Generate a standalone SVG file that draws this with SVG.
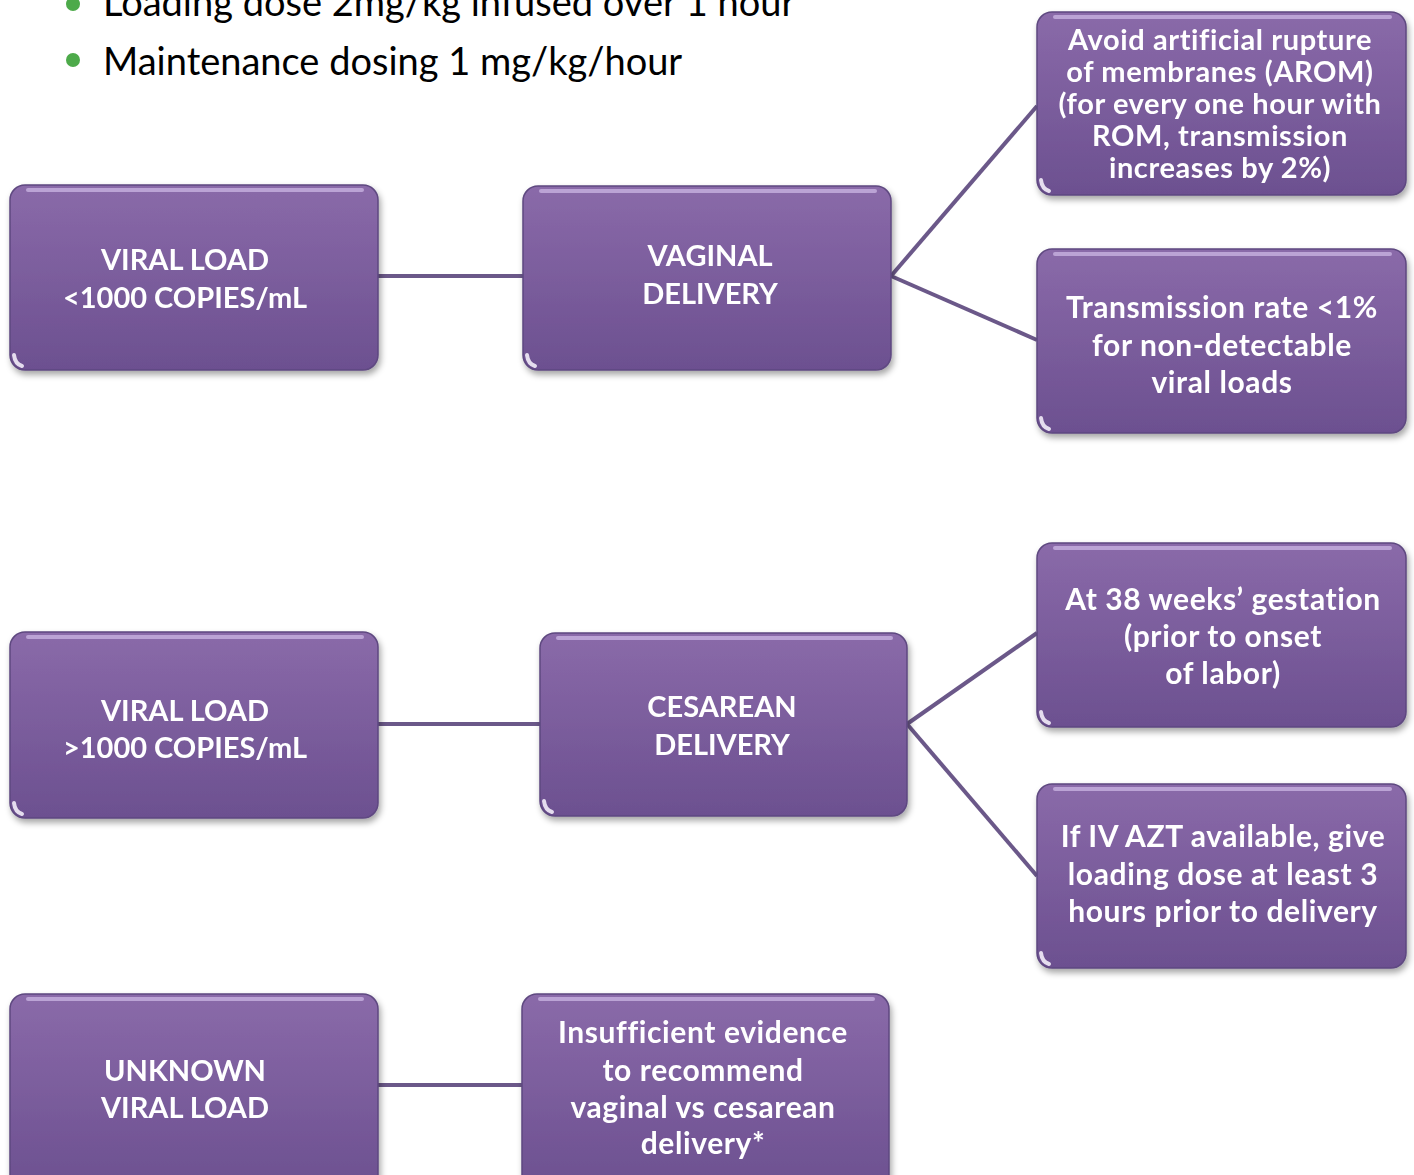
<svg xmlns="http://www.w3.org/2000/svg" width="1414" height="1175" viewBox="0 0 1414 1175">
<style>
.box{fill:url(#g);stroke:#5e4880;stroke-width:1.5}
.hl{fill:none;stroke:#c8b2e0;stroke-width:4;stroke-linecap:round;opacity:0.8}
.bl{fill:none;stroke:#f2ecf8;stroke-width:4;stroke-linecap:round;opacity:0.9}
.t{font-family:Lato,"Open Sans",sans-serif;font-weight:700;font-size:30px;letter-spacing:0.6px;fill:#ffffff;text-anchor:middle}
.s{font-size:29px}
.u{font-size:29px;letter-spacing:0}
.top{font-family:Lato,"Open Sans",sans-serif;font-size:38px;fill:#000000}
.c{stroke:#6b5889;stroke-width:4;fill:none}
</style>
<defs>
<linearGradient id="g" x1="0" y1="0" x2="0" y2="1">
<stop offset="0" stop-color="#8a6aa9"/>
<stop offset="1" stop-color="#6c5090"/>
</linearGradient>
<filter id="sh" x="-10%" y="-10%" width="120%" height="125%">
<feDropShadow dx="2" dy="4" stdDeviation="3" flood-color="#000" flood-opacity="0.35"/>
</filter>
</defs>
<rect width="1414" height="1175" fill="#ffffff"/>
<g id="bullets">
<circle cx="73" cy="4" r="7" fill="#4daa4a"/>
<text class="top" x="103" y="16">Loading dose 2mg/kg infused over 1 hour</text>
<circle cx="73" cy="60" r="7" fill="#4daa4a"/>
<text class="top" x="103" y="75">Maintenance dosing 1 mg/kg/hour</text>
</g>
<g id="connectors">
<line class="c" x1="378" y1="276" x2="523" y2="276"/>
<line class="c" x1="891" y1="276" x2="1037" y2="106"/>
<line class="c" x1="891" y1="276" x2="1037" y2="340"/>
<line class="c" x1="378" y1="724" x2="540" y2="724"/>
<line class="c" x1="907" y1="724" x2="1037" y2="633"/>
<line class="c" x1="907" y1="724" x2="1037" y2="876"/>
<line class="c" x1="378" y1="1085" x2="522" y2="1085"/>
</g>
<g id="n1" filter="url(#sh)">
<rect class="box" x="10" y="185" width="368" height="185" rx="15"/>
<line class="hl" x1="28" y1="190" x2="362" y2="190"/>
<path class="bl" d="M14,355 Q15,364 22,366"/>
<text class="t u" x="185" y="270">VIRAL LOAD</text>
<text class="t u" x="185" y="308">&lt;1000 COPIES/mL</text>
</g>
<g id="n2" filter="url(#sh)">
<rect class="box" x="523" y="186" width="368" height="184" rx="15"/>
<line class="hl" x1="541" y1="191" x2="875" y2="191"/>
<path class="bl" d="M527,355 Q528,364 535,366"/>
<text class="t u" x="710" y="266">VAGINAL</text>
<text class="t u" x="710" y="304">DELIVERY</text>
</g>
<g id="n3" filter="url(#sh)">
<rect class="box" x="1037" y="12" width="369" height="183" rx="15"/>
<line class="hl" x1="1055" y1="17" x2="1390" y2="17"/>
<path class="bl" d="M1041,180 Q1042,189 1049,191"/>
<text class="t s" x="1220" y="50">Avoid artificial rupture</text>
<text class="t s" x="1220" y="82">of membranes (AROM)</text>
<text class="t s" x="1220" y="114">(for every one hour with</text>
<text class="t s" x="1220" y="146">ROM, transmission</text>
<text class="t s" x="1220" y="178">increases by 2%)</text>
</g>
<g id="n4" filter="url(#sh)">
<rect class="box" x="1037" y="249" width="369" height="184" rx="15"/>
<line class="hl" x1="1055" y1="254" x2="1390" y2="254"/>
<path class="bl" d="M1041,418 Q1042,427 1049,429"/>
<text class="t" x="1222" y="318">Transmission rate &lt;1%</text>
<text class="t" x="1222" y="356">for non-detectable</text>
<text class="t" x="1222" y="393">viral loads</text>
</g>
<g id="n5" filter="url(#sh)">
<rect class="box" x="10" y="632" width="368" height="186" rx="15"/>
<line class="hl" x1="28" y1="637" x2="362" y2="637"/>
<path class="bl" d="M14,803 Q15,812 22,814"/>
<text class="t u" x="185" y="721">VIRAL LOAD</text>
<text class="t u" x="185" y="758">&gt;1000 COPIES/mL</text>
</g>
<g id="n6" filter="url(#sh)">
<rect class="box" x="540" y="633" width="367" height="183" rx="15"/>
<line class="hl" x1="558" y1="638" x2="891" y2="638"/>
<path class="bl" d="M544,801 Q545,810 552,812"/>
<text class="t u" x="722" y="717">CESAREAN</text>
<text class="t u" x="722" y="755">DELIVERY</text>
</g>
<g id="n7" filter="url(#sh)">
<rect class="box" x="1037" y="543" width="369" height="184" rx="15"/>
<line class="hl" x1="1055" y1="548" x2="1390" y2="548"/>
<path class="bl" d="M1041,712 Q1042,721 1049,723"/>
<text class="t" x="1223" y="610">At 38 weeks’ gestation</text>
<text class="t" x="1223" y="647">(prior to onset</text>
<text class="t" x="1223" y="684">of labor)</text>
</g>
<g id="n8" filter="url(#sh)">
<rect class="box" x="1037" y="784" width="369" height="184" rx="15"/>
<line class="hl" x1="1055" y1="789" x2="1390" y2="789"/>
<path class="bl" d="M1041,953 Q1042,962 1049,964"/>
<text class="t" x="1223" y="847">If IV AZT available, give</text>
<text class="t" x="1223" y="885">loading dose at least 3</text>
<text class="t" x="1223" y="922">hours prior to delivery</text>
</g>
<g id="n9" filter="url(#sh)">
<rect class="box" x="10" y="994" width="368" height="196" rx="15"/>
<line class="hl" x1="28" y1="999" x2="362" y2="999"/>
<text class="t u" x="185" y="1081">UNKNOWN</text>
<text class="t u" x="185" y="1118">VIRAL LOAD</text>
</g>
<g id="n10" filter="url(#sh)">
<rect class="box" x="522" y="994" width="367" height="196" rx="15"/>
<line class="hl" x1="540" y1="999" x2="873" y2="999"/>
<text class="t" x="703" y="1043">Insufficient evidence</text>
<text class="t" x="703" y="1081">to recommend</text>
<text class="t" x="703" y="1118">vaginal vs cesarean</text>
<text class="t" x="703" y="1154">delivery*</text>
</g>
</svg>
